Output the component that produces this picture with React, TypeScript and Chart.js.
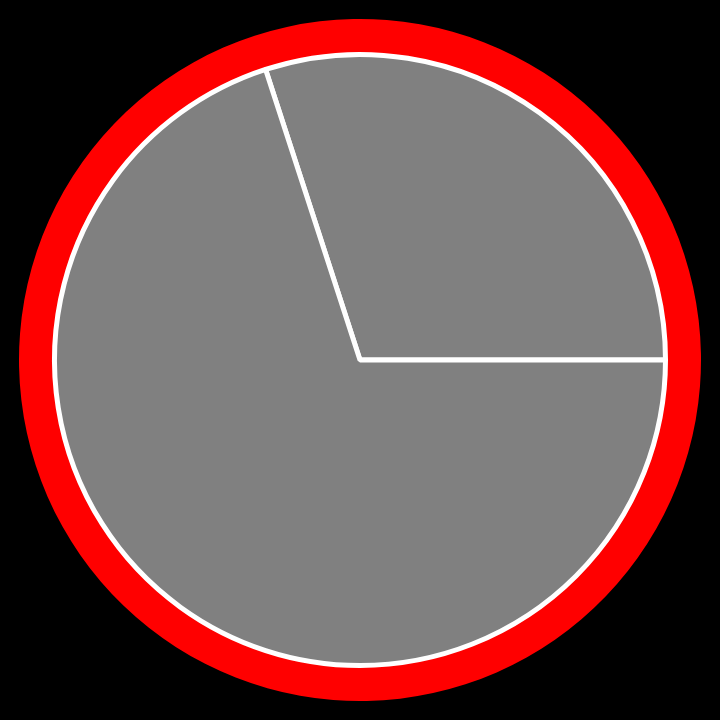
import React, { useEffect, useRef } from "react";
import { Chart, registerables } from "chart.js";

Chart.register(...registerables);

const categories = ["A", "B"];
const sliceValues = [30, 70];
const ringValues = [1];
const sliceColors = ["#808080", "#808080"];
const ringColor = "#ff0000";

export default function App() {
  const ref = useRef<HTMLCanvasElement | null>(null);
  useEffect(() => {
    document.body.style.margin = "0";
    document.body.style.background = "#000000";
    const chart = new Chart(ref.current as HTMLCanvasElement, {
      type: "pie",
      data: {
        labels: categories,
        datasets: [
          {
            data: ringValues,
            backgroundColor: ringColor,
            borderWidth: 0,
            weight: 35.5,
            order: 1,
          } as any,
          {
            data: sliceValues,
            backgroundColor: sliceColors,
            borderColor: "#ffffff",
            borderWidth: 5,
            weight: 305.5,
            order: 0,
          } as any,
        ],
      },
      options: {
        responsive: false,
        animation: false,
        rotation: -18,
        layout: { padding: 19 },
        plugins: { legend: { display: false }, tooltip: { enabled: false } },
        events: [],
      },
    });
    return () => chart.destroy();
  }, []);
  return (
    <div style={{ width: 720, height: 720, background: "#000" }}>
      <canvas ref={ref} width={720} height={720} style={{ display: "block" }} />
    </div>
  );
}
